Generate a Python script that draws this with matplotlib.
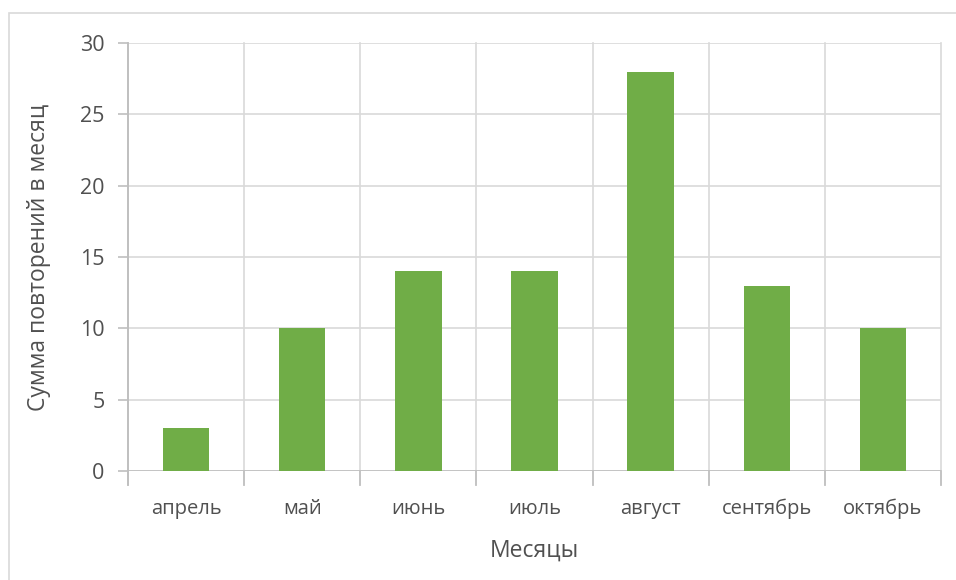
import matplotlib
matplotlib.use("Agg")
import matplotlib.pyplot as plt
from matplotlib.patches import Rectangle
import numpy as np

months = ["апрель", "май", "июнь", "июль", "август", "сентябрь", "октябрь"]
counts = [3, 10, 14, 14, 28, 13, 10]
yticks = [0, 5, 10, 15, 20, 25, 30]

plt.rcParams['font.family'] = ['Open Sans', 'DejaVu Sans']
txt = '#505050'
grid = '#D9D9D9'
axis_c = '#BFBFBF'

fig = plt.figure(figsize=(9.56, 5.8), dpi=100)
fig.patches.append(Rectangle((9/956, -0.1), 1.2, 1 - 13.5/580 + 0.1, transform=fig.transFigure,
                             fill=False, edgecolor='#D9D9D9', linewidth=1.2))
ax = fig.add_axes([128/956, 1 - 471/580, (941 - 128)/956, (471 - 43)/580])

x = np.arange(len(months))
ax.bar(x, counts, width=0.4, color='#70AD47', zorder=3)
ax.set_xlim(-0.5, len(months) - 0.5)
ax.set_ylim(0, 30)
ax.set_yticks(yticks)
ax.set_xticks(x)
ax.set_xticklabels(months)
ax.tick_params(axis='x', length=0, pad=20, labelsize=14.5, labelcolor=txt)
ax.tick_params(axis='y', length=7, width=1.2, color=axis_c, pad=10, labelsize=15.5, labelcolor=txt)

for yv in yticks:
    ax.axhline(yv, color=grid, linewidth=1.2, zorder=1)
for b in np.arange(-0.5, len(months), 1.0):
    ax.plot([b, b], [-1.0, 30], color=grid if b > -0.5 else axis_c, linewidth=1.2,
            zorder=1, clip_on=False)
ax.axhline(0, color=axis_c, linewidth=1.2, zorder=2)
ax.plot([-0.5, -0.5], [-1.0, 30], color=axis_c, linewidth=1.2, zorder=2, clip_on=False)
for b in np.arange(0.5, len(months), 1.0):
    ax.plot([b, b], [-1.0, 0], color=axis_c, linewidth=1.2, zorder=2, clip_on=False)

for s in ax.spines.values():
    s.set_visible(False)

ax.set_ylabel("Сумма повторений в месяц", fontsize=16.5, color=txt, labelpad=21)
ax.set_xlabel("Месяцы", fontsize=16.5, color=txt, labelpad=14)

fig.savefig("out.png", dpi=100)
